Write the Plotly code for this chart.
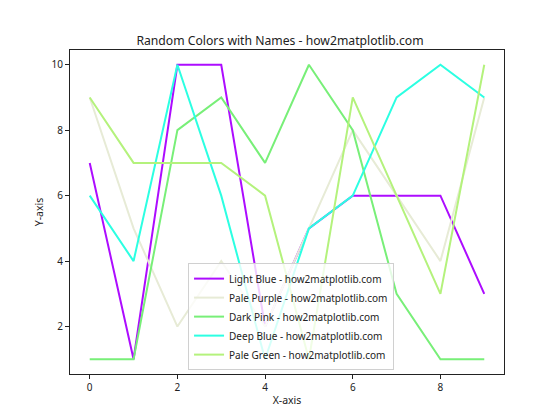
import plotly.graph_objects as go

# -- Data ---------------------------------------------------------------------
x_vals = list(range(10))

series_names = ["Light Blue", "Pale Purple", "Dark Pink", "Deep Blue", "Pale Green"]
series_colors = ["#ad0cff", "#e7ebd6", "#78ef78", "#2cffe2", "#b4f27c"]

light_blue  = [7, 1, 10, 10, 2, 5, 6, 6, 6, 3]
pale_purple = [9, 5, 2, 4, 2, 5, 8, 6, 4, 9]
dark_pink   = [1, 1, 8, 9, 7, 10, 8, 3, 1, 1]
deep_blue   = [6, 4, 10, 6, 1, 5, 6, 9, 10, 9]
pale_green  = [9, 7, 7, 7, 6, 1, 9, 6, 3, 10]

series_values = [light_blue, pale_purple, dark_pink, deep_blue, pale_green]

x_ticks = [0, 2, 4, 6, 8]
y_ticks = [2, 4, 6, 8, 10]

FONT = "Noto Sans"

# -- Figure -------------------------------------------------------------------
fig = go.Figure()

for name, color, ys in zip(series_names, series_colors, series_values):
    fig.add_trace(go.Scatter(
        x=x_vals, y=ys, mode="lines",
        name=f"{name} - how2matplotlib.com",
        line=dict(color=color, width=2),
    ))

axis_style = dict(
    showline=True, linecolor="#222222", linewidth=1, mirror=True,
    ticks="outside", ticklen=4, tickcolor="#222222",
    showgrid=False, zeroline=False, automargin=False,
    tickfont=dict(size=10, color="#222222"),
)

fig.update_layout(
    width=560, height=420,
    paper_bgcolor="white", plot_bgcolor="white",
    font=dict(family=FONT, size=11, color="#222222"),
    margin=dict(l=70, r=56, t=50, b=46),
    title=dict(text="Random Colors with Names - how2matplotlib.com",
               x=0.5, xanchor="center", y=1 - 41 / 420, yanchor="middle",
               font=dict(size=12.2)),
    xaxis=dict(axis_style, range=[-0.45, 9.45], tickvals=x_ticks,
               title=dict(text="X-axis", font=dict(size=10.5), standoff=3)),
    yaxis=dict(axis_style, range=[0.55, 10.45], tickvals=y_ticks,
               title=dict(text="Y-axis", font=dict(size=10.5), standoff=5)),
    legend=dict(
        x=0.272, xanchor="left", y=0.012, yanchor="bottom",
        bgcolor="rgba(255,255,255,0.8)", bordercolor="#d0d0d0", borderwidth=1,
        font=dict(size=10), itemwidth=30,
    ),
    showlegend=True,
)

# the page body has a default 8px margin; drop it so the chart sits at 0,0
fig.write_html("out.html", config={"displayModeBar": False},
               post_script="document.body.style.margin='0';")
